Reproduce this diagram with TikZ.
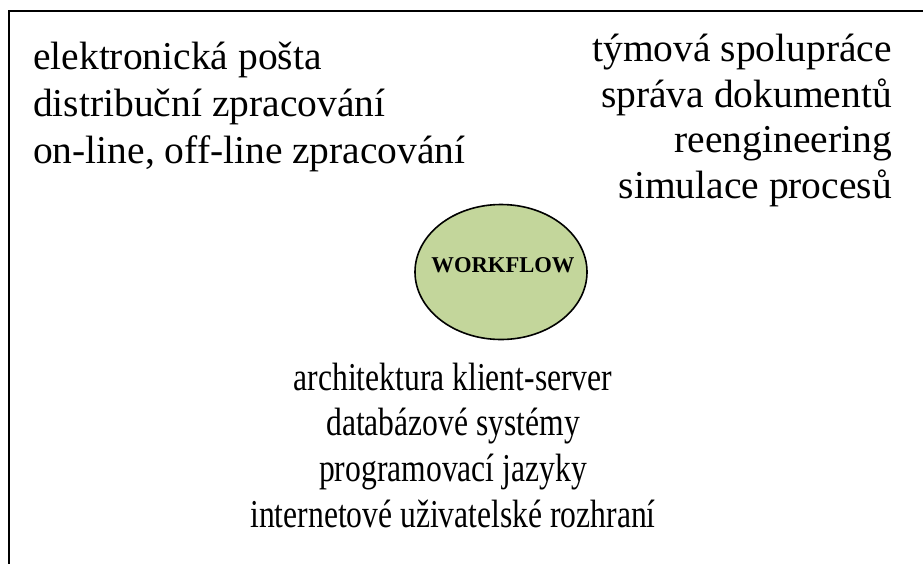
\documentclass[tikz,border=0pt]{standalone}
\usepackage{fontspec}
\setmainfont{Liberation Serif}
\newfontfamily\narrowserif[FakeStretch=0.80]{Liberation Serif}
\usetikzlibrary{shapes.geometric}
\definecolor{wfgreen}{HTML}{C3D69B}
\begin{document}
\begin{tikzpicture}[x=1pt,y=-1pt,
  bigtext/.style={inner sep=0pt,font=\fontsize{39.5}{45}\selectfont},
  narrowtext/.style={inner sep=0pt,font=\narrowserif\fontsize{39.5}{45}\selectfont},
  hub/.style={ellipse,draw=black,line width=1.6pt,fill=wfgreen,minimum width=172pt,minimum height=135pt,inner sep=0pt}]
\useasboundingbox (0,0) rectangle (923,563);
\draw[line width=2.2pt,line cap=rect] (9,570) -- (9,11) -- (930,11);
% left block
\node[bigtext,anchor=base west] (l1) at (33,69) {elektronická pošta};
\node[bigtext,anchor=base west] (l2) at (33,116) {distribuční zpracování};
\node[bigtext,anchor=base west] (l3) at (33,163) {on-line, off-line zpracování};
% right block
\node[bigtext,anchor=base east] (r1) at (892,61.5) {týmová spolupráce};
\node[bigtext,anchor=base east] (r2) at (892,107) {správa dokumentů};
\node[bigtext,anchor=base east] (r3) at (892,152.5) {reengineering};
\node[bigtext,anchor=base east] (r4) at (892,198) {simulace procesů};
% hub
\node[hub] (wf) at (501,272) {};
\node[inner sep=0pt,anchor=base,font=\bfseries\fontsize{22.6}{26}\selectfont] (wft) at (503,272) {WORKFLOW};
% bottom block
\node[narrowtext,anchor=base] (b1) at (453,390) {architektura klient-server};
\node[narrowtext,anchor=base] (b2) at (453,435.5) {databázové systémy};
\node[narrowtext,anchor=base] (b3) at (453,481) {programovací jazyky};
\node[narrowtext,anchor=base] (b4) at (453,527) {internetové uživatelské rozhraní};
\end{tikzpicture}
\end{document}
